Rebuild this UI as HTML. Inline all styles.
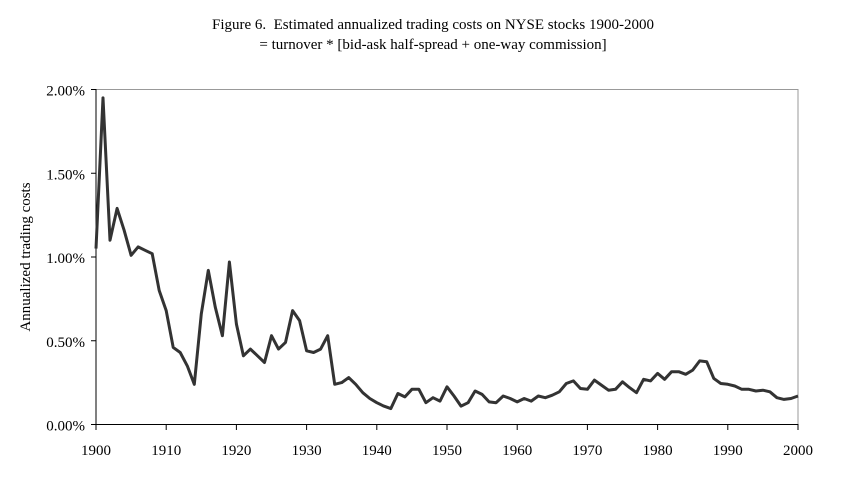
<!DOCTYPE html>
<html><head><meta charset="utf-8"><style>
body{margin:0;background:#fff;width:849px;height:496px;overflow:hidden}
text{font-family:"Liberation Serif",serif;fill:#000}
</style></head><body>
<svg id="s" width="849" height="496" xmlns="http://www.w3.org/2000/svg">
<text x="433" y="29" font-size="15" text-anchor="middle">Figure 6.&#160; Estimated annualized trading costs on NYSE stocks 1900-2000</text>
<text x="433" y="49" font-size="15" text-anchor="middle">= turnover * [bid-ask half-spread + one-way commission]</text>
<rect x="96" y="89.5" width="702" height="335" fill="none" stroke="#999" stroke-width="1"/>
<line x1="96" y1="89" x2="96" y2="425" stroke="#000"/>
<line x1="96" y1="424.5" x2="798" y2="424.5" stroke="#000"/>
<g id="ticks"></g>
<text transform="translate(30,257) rotate(-90)" font-size="15" text-anchor="middle">Annualized trading costs</text>
<path id="p" fill="none" stroke="#333" stroke-width="3" stroke-linejoin="round"/>
</svg>
<script>
var d=[1.05,1.95,1.10,1.29,1.16,1.01,1.06,1.04,1.02,0.80,0.68,0.46,0.43,0.35,0.24,0.66,0.92,0.70,0.53,0.97,0.60,0.41,0.45,0.41,0.37,0.53,0.45,0.49,0.68,0.62,0.44,0.43,0.45,0.53,0.24,0.25,0.28,0.24,0.19,0.155,0.13,0.11,0.095,0.185,0.165,0.21,0.21,0.13,0.16,0.14,0.225,0.17,0.11,0.13,0.20,0.18,0.135,0.13,0.17,0.155,0.135,0.155,0.14,0.17,0.16,0.175,0.195,0.245,0.26,0.215,0.21,0.265,0.235,0.205,0.21,0.255,0.22,0.19,0.27,0.26,0.305,0.27,0.315,0.315,0.30,0.325,0.38,0.375,0.275,0.245,0.24,0.23,0.21,0.21,0.20,0.205,0.195,0.16,0.15,0.155,0.17];
var s="";for(var i=0;i<d.length;i++){s+=(i?"L":"M")+(96+i*7.02).toFixed(1)+","+(424.5-d[i]*167.5).toFixed(1);}
document.getElementById("p").setAttribute("d",s);
var g="";
for(var k=0;k<=4;k++){var y=424.5-k*83.75;g+='<line x1="91" x2="96" y1="'+y+'" y2="'+y+'" stroke="#000"/><text x="85" y="'+(y+6)+'" font-size="15" text-anchor="end">'+(k*0.5).toFixed(2)+'%</text>';}
for(var k=0;k<=10;k++){var x=96+k*70.2;g+='<line x1="'+x+'" x2="'+x+'" y1="424" y2="430" stroke="#000"/><text x="'+x+'" y="455" font-size="15" text-anchor="middle">'+(1900+k*10)+'</text>';}
document.getElementById("ticks").innerHTML=g;
</script>
</body></html>
